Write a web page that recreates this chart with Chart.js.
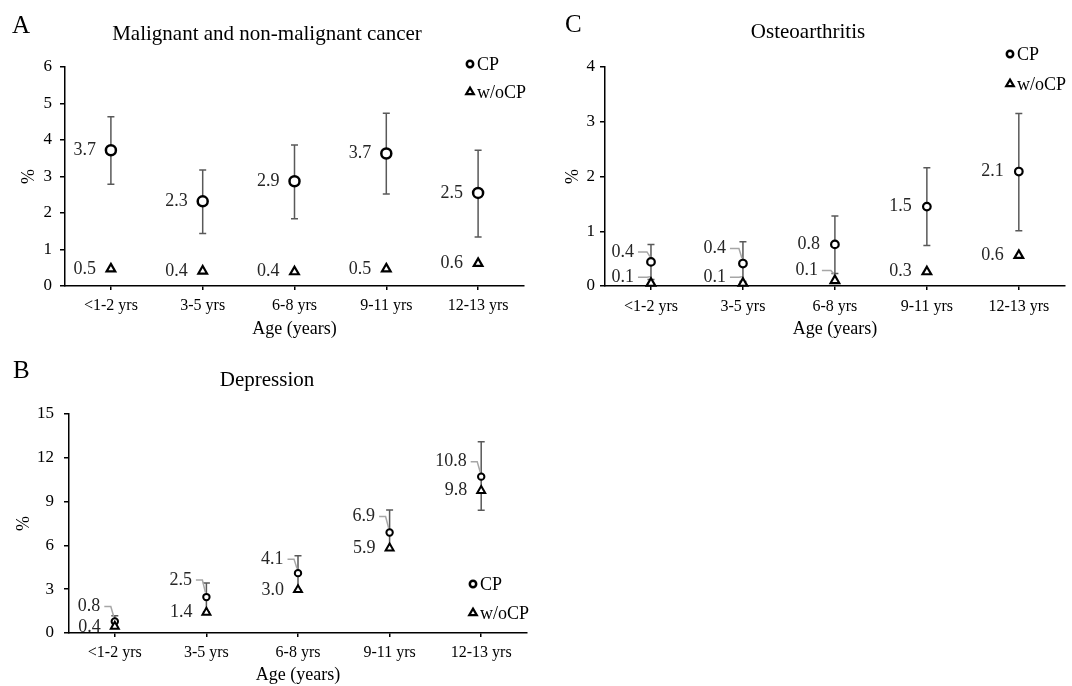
<!DOCTYPE html>
<html>
<head>
<meta charset="utf-8">
<script src="https://cdn.jsdelivr.net/npm/chart.js@4.4.1/dist/chart.umd.min.js"></script>
<style>
  html, body { margin: 0; padding: 0; background: #fff; }
  body { width: 1072px; height: 686px; position: relative; overflow: hidden; }
  canvas { position: absolute; }
</style>
</head>
<body>
<canvas id="chartA" width="540" height="340" style="left:0;top:0"></canvas>
<canvas id="chartC" width="532" height="340" style="left:540px;top:0"></canvas>
<canvas id="chartB" width="540" height="346" style="left:0;top:340px"></canvas>
<script>
// categories
const ageGroups = ['<1-2 yrs', '3-5 yrs', '6-8 yrs', '9-11 yrs', '12-13 yrs'];

// A - malignant and non-malignant cancer
const cancerCP = [3.72, 2.32, 2.87, 3.63, 2.55];
const cancerCPLow = [2.79, 1.44, 1.84, 2.52, 1.34];
const cancerCPHigh = [4.64, 3.18, 3.86, 4.73, 3.72];
const cancerNoCP = [0.47, 0.41, 0.39, 0.47, 0.62];
const cancerCPText = ['3.7', '2.3', '2.9', '3.7', '2.5'];
const cancerNoCPText = ['0.5', '0.4', '0.4', '0.5', '0.6'];
const cancerYTicks = [0, 1, 2, 3, 4, 5, 6];

// B - depression
const depCP = [0.79, 2.46, 4.1, 6.88, 10.71];
const depCPLow = [0.45, 1.45, 2.96, 5.75, 8.4];
const depCPHigh = [1.18, 3.42, 5.29, 8.43, 13.1];
const depNoCP = [0.45, 1.41, 2.96, 5.81, 9.75];
const depCPText = ['0.8', '2.5', '4.1', '6.9', '10.8'];
const depNoCPText = ['0.4', '1.4', '3.0', '5.9', '9.8'];
const depYTicks = [0, 3, 6, 9, 12, 15];

// C - osteoarthritis
const oaCP = [0.44, 0.41, 0.76, 1.45, 2.09];
const oaCPLow = [0.12, 0.08, 0.23, 0.74, 1.01];
const oaCPHigh = [0.76, 0.81, 1.28, 2.16, 3.15];
const oaNoCP = [0.05, 0.05, 0.1, 0.26, 0.56];
const oaCPText = ['0.4', '0.4', '0.8', '1.5', '2.1'];
const oaNoCPText = ['0.1', '0.1', '0.1', '0.3', '0.6'];
const oaYTicks = [0, 1, 2, 3, 4];

const SERIF = "'Liberation Serif', 'Times New Roman', Times, serif";
Chart.defaults.font.family = SERIF;
Chart.defaults.color = '#000';

// small marker helper for the legend (same shapes as chart.js points)
function drawMarker(ctx, style, r, bw, x, y) {
    ctx.save();
    ctx.fillStyle = '#fff';
    ctx.strokeStyle = '#000';
    ctx.lineWidth = bw;
    ctx.beginPath();
    if (style === 'circle') {
        ctx.arc(x, y, r, 0, Math.PI * 2);
    } else {
        let rad = 0;
        ctx.moveTo(x + Math.sin(rad) * r, y - Math.cos(rad) * r);
        rad += Math.PI * 2 / 3;
        ctx.lineTo(x + Math.sin(rad) * r, y - Math.cos(rad) * r);
        rad += Math.PI * 2 / 3;
        ctx.lineTo(x + Math.sin(rad) * r, y - Math.cos(rad) * r);
        ctx.closePath();
    }
    ctx.fill();
    ctx.stroke();
    ctx.restore();
}

function decorPlugin(p) {
    return {
        id: 'decor' + p.letter,
        // error bars under the markers
        beforeDatasetsDraw(chart) {
            const { ctx, scales: { x, y } } = chart;
            ctx.save();
            ctx.strokeStyle = '#595959';
            ctx.lineWidth = 1.5;
            p.cpLow.forEach((lo, i) => {
                const px = x.getPixelForValue(i);
                const y1 = y.getPixelForValue(lo);
                const y2 = y.getPixelForValue(p.cpHigh[i]);
                ctx.beginPath();
                ctx.moveTo(px, y1); ctx.lineTo(px, y2);
                ctx.moveTo(px - 3.5, y1); ctx.lineTo(px + 3.5, y1);
                ctx.moveTo(px - 3.5, y2); ctx.lineTo(px + 3.5, y2);
                ctx.stroke();
            });
            ctx.restore();
        },
        // value labels, with leader lines when shifted
        afterDatasetsDraw(chart) {
            const ctx = chart.ctx;
            ctx.save();
            ctx.font = '18px ' + SERIF;
            ctx.textAlign = 'right';
            ctx.textBaseline = 'middle';
            const sets = [
                [0, p.cpText, p.cpShift, p.circle],
                [1, p.noCPText, p.noCPShift, p.tri]
            ];
            sets.forEach(([d, texts, shift, mk]) => {
                chart.getDatasetMeta(d).data.forEach((pt, i) => {
                    const dy = shift[i];
                    const leader = Math.abs(dy) > 2;
                    const tr = pt.x + (leader ? p.leaderDx : p.dx);
                    const ty = pt.y + dy;
                    ctx.fillStyle = '#262626';
                    ctx.fillText(texts[i], tr, ty);
                    if (leader) {
                        ctx.strokeStyle = '#a6a6a6';
                        ctx.lineWidth = 1.5;
                        ctx.beginPath();
                        ctx.moveTo(tr + 4, ty);
                        ctx.lineTo(pt.x - 4, ty);
                        ctx.lineTo(pt.x - 1, pt.y - mk.r - 1.5);
                        ctx.stroke();
                    }
                });
            });
            ctx.restore();
        },
        // panel letter, title and legend
        afterDraw(chart) {
            const ctx = chart.ctx;
            ctx.save();
            ctx.fillStyle = '#000';
            ctx.textBaseline = 'alphabetic';
            ctx.textAlign = 'left';
            ctx.font = '25px ' + SERIF;
            ctx.fillText(p.letter, p.letterPos[0], p.letterPos[1]);
            ctx.textAlign = 'center';
            ctx.font = '21px ' + SERIF;
            ctx.fillText(p.title, p.titlePos[0], p.titlePos[1]);
            ctx.textAlign = 'left';
            ctx.font = '18px ' + SERIF;
            const lg = p.legend;
            drawMarker(ctx, 'circle', 3.2, 2.5, lg.x, lg.y1);
            ctx.fillText('CP', lg.x + 7, lg.y1 + 6);
            drawMarker(ctx, 'triangle', 4.4, 2.2, lg.x, lg.y2);
            ctx.fillText('w/oCP', lg.x + 7, lg.y2 + 6);
            ctx.restore();
        }
    };
}

function drawPanel(canvasId, p) {
    const yt = p.yTicks;
    new Chart(document.getElementById(canvasId), {
        type: 'line',
        data: {
            labels: ageGroups,
            datasets: [
                {
                    label: 'CP', data: p.cp, showLine: false, clip: false, order: 1,
                    pointStyle: 'circle', pointRadius: p.circle.r, pointBorderWidth: p.circle.bw,
                    pointBackgroundColor: '#fff', pointBorderColor: '#000'
                },
                {
                    label: 'w/oCP', data: p.noCP, showLine: false, clip: false, order: 0,
                    pointStyle: 'triangle', pointRadius: p.tri.r, pointBorderWidth: p.tri.bw,
                    pointBackgroundColor: '#fff', pointBorderColor: '#000'
                }
            ]
        },
        options: {
            responsive: false,
            animation: false,
            events: [],
            layout: { padding: { left: 0, right: p.padRight, top: p.padTop, bottom: 0 } },
            plugins: { legend: { display: false }, tooltip: { enabled: false }, title: { display: false } },
            scales: {
                x: {
                    offset: true,
                    grid: { display: true, drawOnChartArea: false, offset: false, tickLength: 4, color: '#000', lineWidth: 1.5 },
                    border: { display: true, color: '#000', width: 1.5 },
                    ticks: { font: { size: 16 }, color: '#000', padding: p.xTickPad, maxRotation: 0, autoSkip: false },
                    title: { display: true, text: 'Age (years)', font: { size: 18 }, color: '#000', padding: 0 },
                    afterFit: s => { s.height = p.xHeight; }
                },
                y: {
                    min: yt[0],
                    max: yt[yt.length - 1],
                    ticks: { stepSize: yt[1] - yt[0], font: { size: 17 }, color: '#000', padding: p.yTickPad },
                    grid: { display: true, drawOnChartArea: false, tickLength: 5, color: '#000', lineWidth: 1.5 },
                    border: { display: true, color: '#000', width: 1.5 },
                    title: { display: true, text: '%', font: { size: 18 }, color: '#000', padding: { top: p.yTitlePad, bottom: 0 } },
                    afterFit: s => { s.width = p.yWidth; }
                }
            }
        },
        plugins: [decorPlugin(p)]
    });
}

drawPanel('chartA', {
    letter: 'A', title: 'Malignant and non-malignant cancer',
    cp: cancerCP, cpLow: cancerCPLow, cpHigh: cancerCPHigh, noCP: cancerNoCP,
    cpText: cancerCPText, noCPText: cancerNoCPText, yTicks: cancerYTicks,
    cpShift: [0, 0, 0, 0, 0], noCPShift: [0, 0, 0, 0, 0], dx: -15, leaderDx: -15,
    circle: { r: 5, bw: 2.5 }, tri: { r: 5, bw: 2.2 },
    yWidth: 65, padRight: 16, padTop: 67, xHeight: 54,
    xTickPad: 6, yTickPad: 8, yTitlePad: 18,
    letterPos: [12, 33], titlePos: [267, 40],
    legend: { x: 470, y1: 64, y2: 92 }
});

drawPanel('chartB', {
    letter: 'B', title: 'Depression',
    cp: depCP, cpLow: depCPLow, cpHigh: depCPHigh, noCP: depNoCP,
    cpText: depCPText, noCPText: depNoCPText, yTicks: depYTicks,
    cpShift: [-15, -17, -14, -16, -15], noCPShift: [1, 0, 0, 0, 0], dx: -14, leaderDx: -14.5,
    circle: { r: 3.2, bw: 2 }, tri: { r: 4.6, bw: 2 },
    yWidth: 69, padRight: 13, padTop: 74, xHeight: 53,
    xTickPad: 6, yTickPad: 10, yTitlePad: 13,
    letterPos: [13, 38], titlePos: [267, 46],
    legend: { x: 473, y1: 244, y2: 273 }
});

drawPanel('chartC', {
    letter: 'C', title: 'Osteoarthritis',
    cp: oaCP, cpLow: oaCPLow, cpHigh: oaCPHigh, noCP: oaNoCP,
    cpText: oaCPText, noCPText: oaNoCPText, yTicks: oaYTicks,
    cpShift: [-10, -15, 0, 0, 0], noCPShift: [-6, -6, -10, 0, 0], dx: -15, leaderDx: -17,
    circle: { r: 3.8, bw: 2.2 }, tri: { r: 5, bw: 2.2 },
    yWidth: 65, padRight: 4, padTop: 67, xHeight: 54,
    xTickPad: 7, yTickPad: 5, yTitlePad: 22,
    letterPos: [25, 32], titlePos: [268, 38],
    legend: { x: 470, y1: 54, y2: 84 }
});
</script>
</body>
</html>
